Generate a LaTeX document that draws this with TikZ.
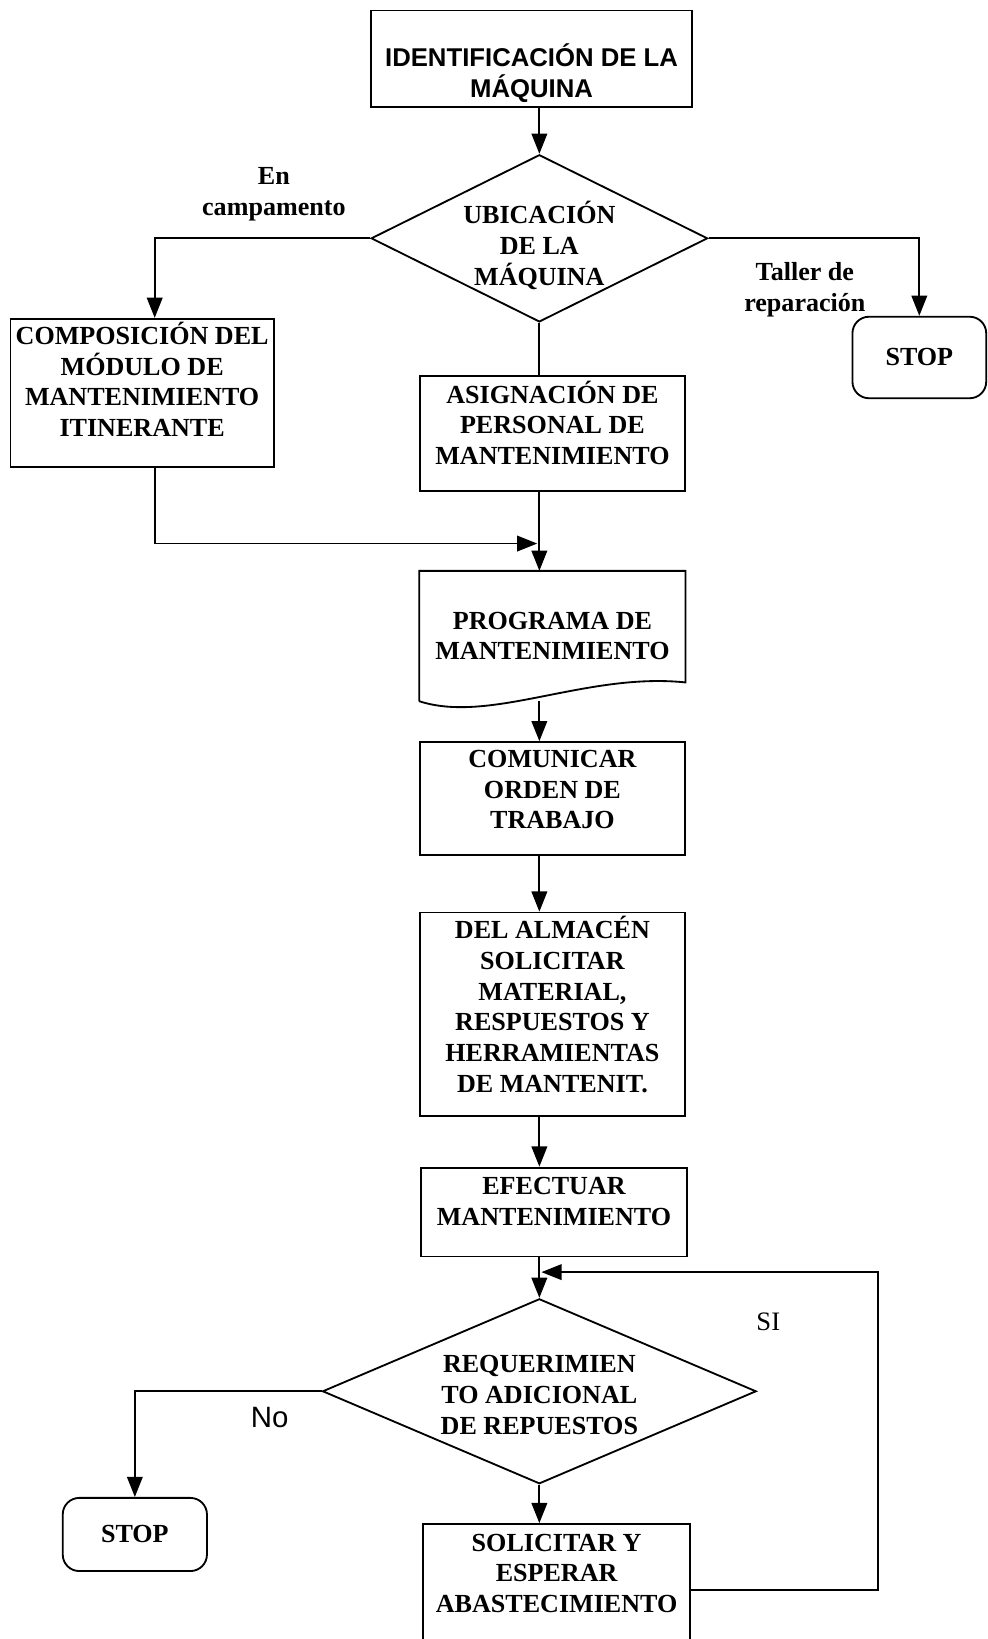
\documentclass[tikz,border=0pt]{standalone}
\usepackage{fontspec}
\setmainfont{Liberation Serif}
\newfontfamily\arialfont{Liberation Sans}
\usepackage{tikz}
\usetikzlibrary{arrows.meta,shapes,calc}
\tikzstyle{process}=[draw, line width=1pt, rectangle, align=center, inner sep=0pt, font=\bfseries\fontsize{14.2}{16.8}\selectfont]
\tikzstyle{terminal}=[process, rounded corners=9pt]
\tikzstyle{titlebox}=[draw, line width=1pt, rectangle, inner sep=0pt]
\tikzstyle{title text}=[align=center, inner sep=0pt, font=\arialfont\bfseries\fontsize{14}{17}\selectfont]
\tikzstyle{decision}=[draw, line width=1pt, diamond, inner sep=0pt]
\tikzstyle{decision text}=[align=center, inner sep=0pt, font=\bfseries\fontsize{14.2}{16.8}\selectfont]
\tikzstyle{branch note}=[align=center, inner sep=0pt, font=\bfseries\fontsize{14.2}{17}\selectfont]
\tikzstyle{edge} = [draw,line width=1pt,-]
\tikzstyle{arrowedge} = [draw,line width=1pt,-{Triangle[length=11pt,width=8.5pt]}]

\begin{document}
\begin{tikzpicture}[x=0.02cm, y=-0.02cm]
		% frame of the page
		\useasboundingbox (0,0) rectangle (945,1568);
		
		% First we draw the boxes
		\node[titlebox, minimum width=6.14cm, minimum height=1.84cm,
			label={[title text, yshift=-8pt]center:IDENTIFICACIÓN DE LA\\MÁQUINA}] (ident) at (508.5,56) {};
		\node[decision, minimum width=6.44cm, minimum height=3.2cm,
			label={[decision text, yshift=-4pt]center:UBICACIÓN\\DE LA\\MÁQUINA}] (ubic) at (516,228) {};
		\node[process, minimum width=5.04cm, minimum height=2.84cm, text depth=15pt] (comp) at (136,376) {COMPOSICIÓN DEL\\MÓDULO DE\\MANTENIMIENTO\\ITINERANTE};
		\node[terminal, minimum width=2.56cm, minimum height=1.56cm] (stopR) at (879.5,342) {STOP};
		\node[process, minimum width=5.06cm, minimum height=2.2cm, text depth=12pt] (asig) at (528.5,415) {ASIGNACIÓN DE\\PERSONAL DE\\MANTENIMIENTO};
		\node[process, draw=none, minimum width=5.06cm, minimum height=2.46cm] (prog) at (528.5,608.5) {PROGRAMA DE\\MANTENIMIENTO};
		\node[process, minimum width=5.06cm, minimum height=2.16cm, text depth=10pt] (comu) at (528.5,764) {COMUNICAR\\ORDEN DE\\TRABAJO};
		\node[process, minimum width=5.06cm, minimum height=3.9cm, text depth=11pt] (alm) at (528.5,970.5) {DEL ALMACÉN\\SOLICITAR\\MATERIAL,\\RESPUESTOS Y\\HERRAMIENTAS\\DE MANTENIT.};
		\node[process, minimum width=5.08cm, minimum height=1.7cm, text depth=12pt] (efec) at (530,1159.5) {EFECTUAR\\MANTENIMIENTO};
		\node[decision, minimum width=8.3cm, minimum height=3.54cm,
			label={[decision text, yshift=-2pt]center:REQUERIMIEN\\TO ADICIONAL\\DE REPUESTOS}] (req) at (516,1331) {};
		\node[terminal, minimum width=2.76cm, minimum height=1.4cm] (stopL) at (129,1468) {STOP};
		\node[process, minimum width=5.1cm, minimum height=2.52cm, text depth=18pt] (sol) at (532.5,1521) {SOLICITAR Y\\ESPERAR\\ABASTECIMIENTO};
		
		% document shape with wavy bottom
		\path[edge] (prog.south west) -- (prog.north west) -- (prog.north east) -- ($(prog.south east)+(0,-18)$)
			.. controls ($(prog.south east)+(-95,-28)$) and ($(prog.south west)+(68,22)$) .. (prog.south west);
		
		% branch labels
		\node[branch note] (encamp) at (262,186) {En\\campamento};
		\node[branch note] (taller) at (770,277) {Taller de\\reparación};
		\node[font=\arialfont\fontsize{16}{18}\selectfont, inner sep=0pt] (no) at (258,1356) {No};
		\node[font=\fontsize{14.5}{17}\selectfont, inner sep=0pt] (si) at (735,1265) {SI};
		
		\coordinate (join) at (514,520);
		\coordinate (loop) at (840,1217);
		\coordinate (merge) at (518,1217);
		
		% Connect the boxes
		\path[arrowedge] (ident.south -| ubic.north) -- (ubic.north);
		\path[arrowedge] (ubic.west) -| ($(comp.north)+(12,0)$);
		\path[arrowedge] (ubic.east) -| (stopR.north);
		\path[edge] (ubic.south) -- (asig.north -| ubic.south);
		\path[arrowedge] ($(comp.south)+(12,0)$) |- (join);
		\path[arrowedge] (asig.south -| ubic.south) -- (prog.north -| ubic.south);
		\foreach \source/ \dest in {
			prog/comu,comu/alm,alm/efec,efec/req,req/sol}
		\path[arrowedge] (\source.south -| ubic.south) -- (\dest.north -| ubic.south);
		\path[arrowedge] (req.west) -| (stopL.north);
		\path[arrowedge] (sol.east) -| (loop) -- (merge);
		\end{tikzpicture}
\end{document}
